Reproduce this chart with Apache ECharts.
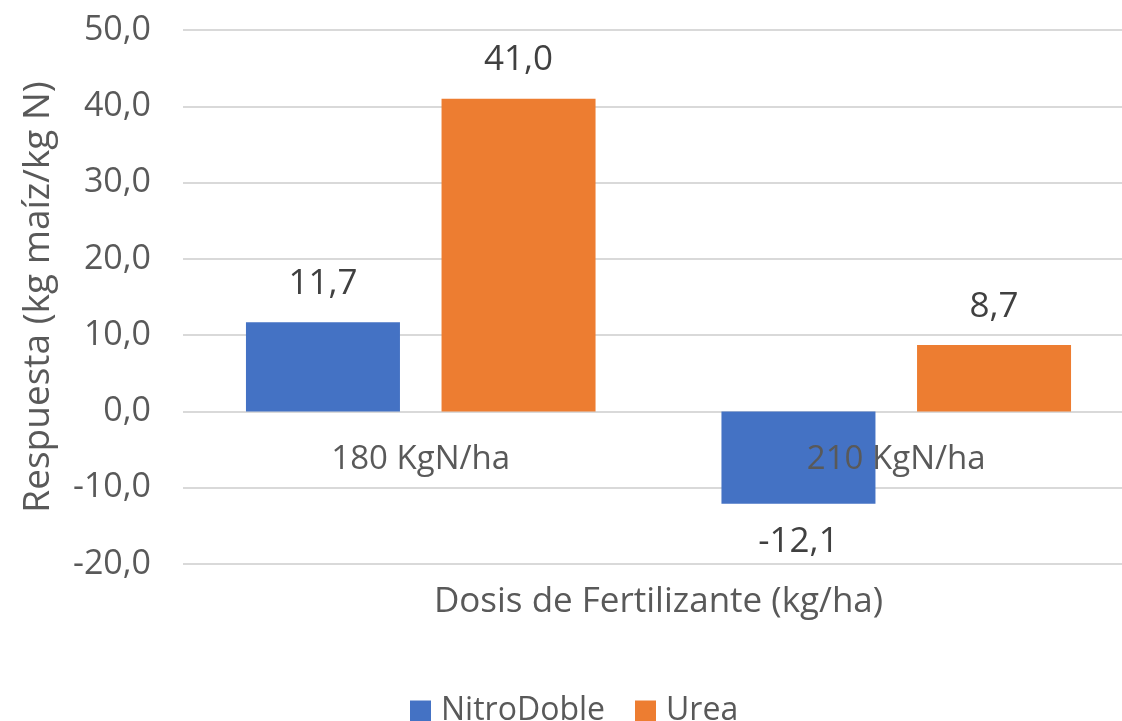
<!DOCTYPE html>
<html>
<head>
<meta charset="utf-8">
<script src="https://cdn.jsdelivr.net/npm/echarts@6/dist/echarts.min.js"></script>
<style>
  html, body { margin: 0; padding: 0; background: #fff; }
  #chart { width: 1122px; height: 721px; }
</style>
</head>
<body>
<div id="chart"></div>
<script>
var categories = ['180 KgN/ha', '210 KgN/ha'];
var nitroDoble = [11.7, -12.1];
var urea = [41.0, 8.7];
var seriesNames = ['NitroDoble', 'Urea'];

var FONT = '"Open Sans", sans-serif';
var TXT = '#595959';

function comma(v) {
    return Number(v).toFixed(1).replace('.', ',');
}

var chart = echarts.init(document.getElementById('chart'));

function barSeries(name, data, color) {
    return {
        name: name,
        type: 'bar',
        data: data,
        barWidth: 154,
        barGap: '27%',
        itemStyle: { color: color },
        label: {
            show: true,
            position: 'outside',
            distance: 21,
            fontFamily: FONT,
            fontSize: 35,
            color: '#404040',
            formatter: function (p) { return comma(p.value) }
        }
    }
}

chart.setOption({
    animation: false,
    textStyle: { fontFamily: FONT },
    grid: {
        left: 183, top: 30, width: 951, height: 534,
        containLabel: false,
        outerBoundsMode: 'none'
    },
    legend: {
        top: 690,
        left: 405,
        itemWidth: 21,
        itemHeight: 21,
        itemGap: 30,
        icon: 'rect',
        textStyle: { fontFamily: FONT, fontSize: 32, color: TXT, padding: [0, 0, 0, 5] },
        data: seriesNames
    },
    xAxis: {
        type: 'category',
        data: categories,
        z: 5,
        name: 'Dosis de Fertilizante (kg/ha)',
        nameLocation: 'middle',
        nameGap: 21,
        nameTextStyle: { fontFamily: FONT, fontSize: 35, color: TXT, verticalAlign: 'top' },
        axisLine: { show: false, onZero: false },
        axisTick: { show: false },
        // category labels sit just under the zero line, over the bars
        axisLabel: { margin: -121, fontFamily: FONT, fontSize: 33, color: TXT }
    },
    yAxis: {
        type: 'value',
        min: -20,
        max: 50,
        interval: 10,
        name: 'Respuesta (kg maíz/kg N)',
        nameLocation: 'middle',
        nameGap: 126,
        nameTextStyle: { fontFamily: FONT, fontSize: 37, color: TXT },
        axisLine: { show: false },
        axisTick: { show: false },
        splitLine: { lineStyle: { color: '#d9d9d9', width: 2 } },
        axisLabel: {
            margin: 32,
            fontFamily: FONT,
            fontSize: 34,
            color: TXT,
            formatter: comma
        }
    },
    series: [
        barSeries(seriesNames[0], nitroDoble, '#4472C4'),
        barSeries(seriesNames[1], urea, '#ED7D31')
    ]
});

window.addEventListener('resize', function () {
    chart.resize();
});
</script>
</body>
</html>
